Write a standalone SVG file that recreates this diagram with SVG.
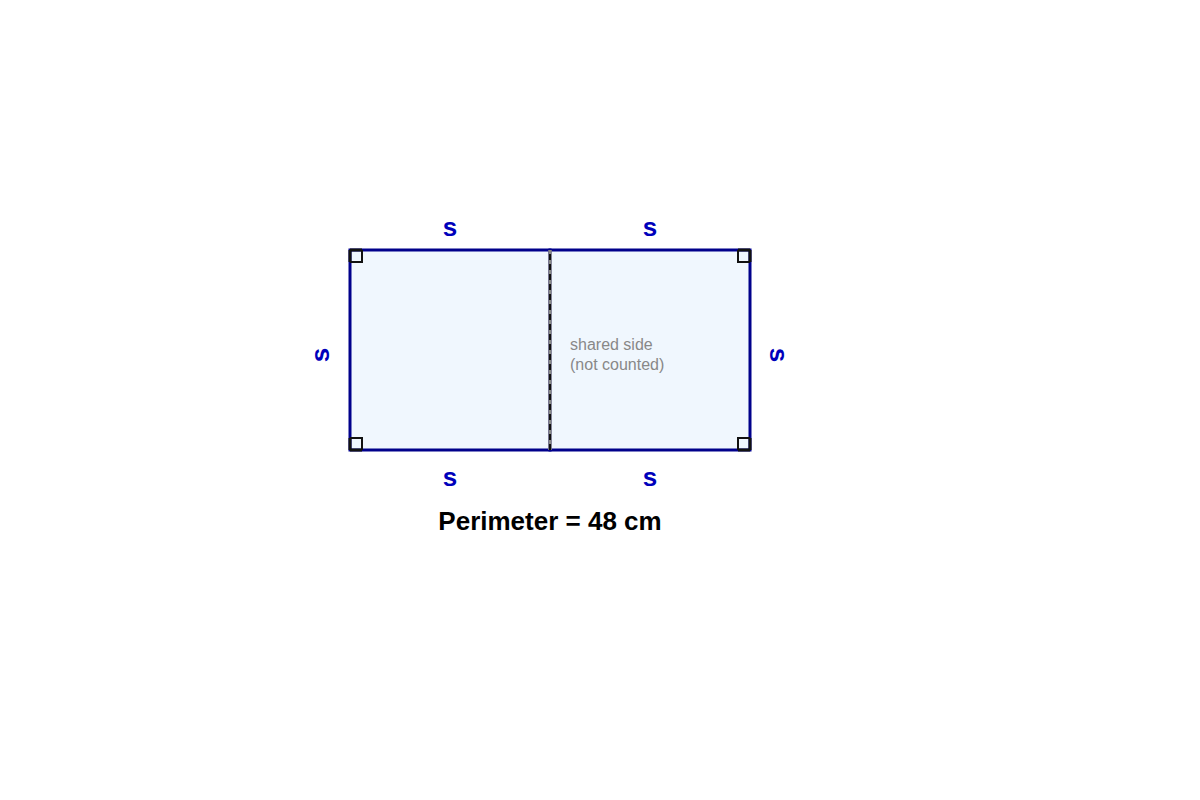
<svg xmlns="http://www.w3.org/2000/svg" width="1200" height="800" viewBox="0 0 1200 800">
<style>
.sq{fill:#f0f7fe;stroke:#00008b;stroke-width:3}
.mk{fill:none;stroke:#111;stroke-width:2}
.lbl{font-family:"Liberation Sans",Arial,sans-serif;font-weight:bold;font-size:26px;fill:#0000bb;text-anchor:middle}
.note{font-family:"Liberation Sans",Arial,sans-serif;font-size:16px;fill:#888}
.title{font-family:"Liberation Sans",Arial,sans-serif;font-weight:bold;font-size:26px;fill:#000;text-anchor:middle}
</style>
<rect width="1200" height="800" fill="#fff"/>
<g id="left-square"><rect class="sq" x="350" y="250" width="200" height="200"/></g>
<g id="right-square"><rect class="sq" x="550" y="250" width="200" height="200"/></g>
<g id="connectors">
<line x1="550" y1="250" x2="550" y2="450" stroke="#888" stroke-width="3.5"/>
<line x1="550" y1="254" x2="550" y2="450" stroke="#111" stroke-width="2" stroke-dasharray="6,4"/>
</g>
<g id="corner-marks">
<path class="mk" d="M350,262 H362 V250"/>
<path class="mk" d="M750,262 H738 V250"/>
<path class="mk" d="M350,438 H362 V450"/>
<path class="mk" d="M750,438 H738 V450"/>
<path d="M350,250 V262 M350,250 H362 M750,250 H738 M750,250 V262 M350,450 H362 M350,450 V438 M750,450 H738 M750,450 V438" stroke="#111" stroke-width="3" fill="none"/>
</g>
<g id="labels">
<text class="lbl" x="450" y="236">s</text>
<text class="lbl" x="650" y="236">s</text>
<text class="lbl" x="450" y="486">s</text>
<text class="lbl" x="650" y="486">s</text>
<text class="lbl" transform="translate(320,355) rotate(-90)" y="9">s</text>
<text class="lbl" transform="translate(779,355) rotate(90)" y="9">s</text>
<text class="note" x="570" y="350">shared side</text>
<text class="note" x="570" y="370">(not counted)</text>
<text class="title" x="550" y="530">Perimeter = 48 cm</text>
</g>
</svg>
